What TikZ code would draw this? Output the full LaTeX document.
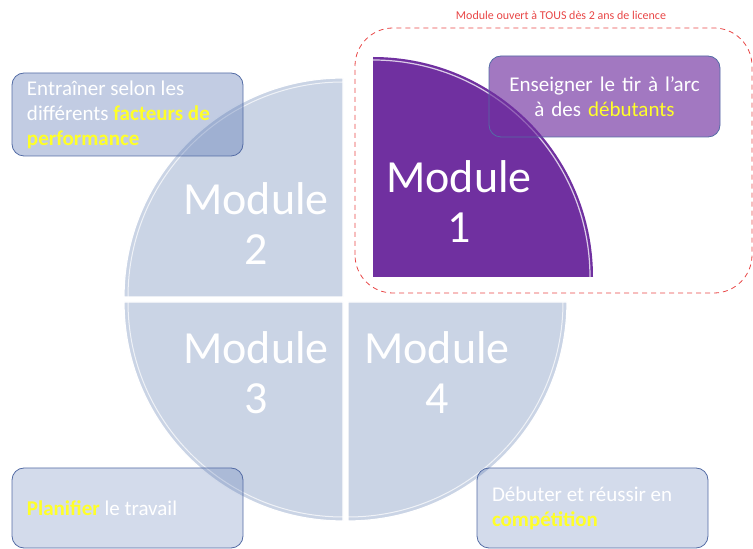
\documentclass[tikz,border=0pt]{standalone}
\usepackage{fontspec}
\setmainfont{Carlito}
\usetikzlibrary{positioning}

\definecolor{quartfill}{RGB}{202,212,229}
\definecolor{violet1}{RGB}{112,48,160}
\definecolor{boitebleu}{RGB}{79,110,175}
\definecolor{boitebord}{RGB}{84,108,165}
\definecolor{jaune}{RGB}{255,255,40}
\definecolor{rouge}{RGB}{232,70,70}

\begin{document}
\begin{tikzpicture}[x=1pt,y=1pt,
		quart/.style={fill=quartfill,draw=white,line width=1.2pt},
		reflet/.style={draw=white,opacity=.7,line width=1pt},
		modtxt/.style={text=white,align=center,font=\fontsize{46}{50}\selectfont},
		boite/.style={rounded corners=12pt,draw=boitebord,line width=0.8pt,fill=boitebleu,fill opacity=.35,text opacity=1,
			minimum width=231pt,minimum height=81pt,text width=201pt,inner xsep=15pt,align=flush left,
			font=\fontsize{21}{25}\selectfont,text=white}]
		\useasboundingbox (0,0) rectangle (753,549);
		% les quatre quarts
		\draw[quart] (343,252) -- (124,252) arc (180:90:219) -- cycle;
		\draw[quart] (343,247) -- (343,28) arc (270:180:219) -- cycle;
		\draw[quart] (348,247) -- (567,247) arc (0:-90:219) -- cycle;
		\draw[reflet] (128,252) arc (180:90:215);
		\draw[reflet] (343,32) arc (270:180:215);
		\draw[reflet] (563,247) arc (0:-90:215);
		% module 1 sorti du cercle
		\fill[violet1] (373,272) -- (593,272) arc (0:90:220) -- cycle;
		\draw[white!75!violet1,line width=1.2pt] (590,272) arc (0:90:217);
		% cadre en pointilles
		\draw[rouge,line width=0.8pt,dash pattern=on 5pt off 4pt,rounded corners=38pt] (355,256) rectangle (752,521);
		\node[text=rouge,font=\fontsize{12}{14}\selectfont] (ouvert) at (561,534) {Module ouvert à TOUS dès 2 ans de licence};

		\node[modtxt] (m1) at (459,347) {Module\\1};
		\node[modtxt] (m2) at (256,325) {Module\\2};
		\node[modtxt] (m3) at (256,176) {Module\\3};
		\node[modtxt] (m4) at (437,176) {Module\\4};

		\node[boite,minimum height=83pt] (facteurs) at (127.5,434.5) {Entraîner selon les\\différents \textbf{\color{jaune}facteurs de}\\\textbf{\color{jaune}performance}};
		\node[boite,fill=violet1,fill opacity=.65,align=center] (debutants) at (604.5,452.5) {Enseigner le tir à l’arc\\à des {\color{jaune}débutants}};
		\node[boite,fill opacity=.25,minimum height=80pt] (planifier) at (127.5,41) {\textbf{\color{jaune}Planifier} le travail};
		\node[boite,fill opacity=.25,minimum height=80pt] (competition) at (592.5,41) {Débuter et réussir en\\\textbf{\color{jaune}compétition}};
\end{tikzpicture}
\end{document}
